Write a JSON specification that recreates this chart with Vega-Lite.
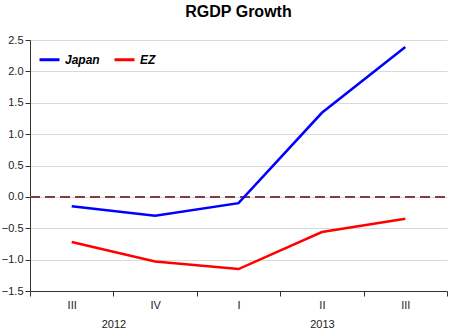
{
  "$schema": "https://vega.github.io/schema/vega-lite/v6.json",
  "autosize": "none",
  "width": 417,
  "height": 251,
  "padding": {"left": 30, "top": 40, "right": 3, "bottom": 42},
  "background": "white",
  "title": {"text": "RGDP Growth", "font": "Liberation Sans", "fontSize": 16, "fontWeight": "bold", "color": "#000", "frame": "group", "anchor": "middle", "offset": 14},
  "config": {
    "view": {"stroke": null},
    "axis": {"labelFont": "Liberation Sans", "labelFontSize": 11, "labelColor": "#222", "domainColor": "#333", "tickColor": "#333", "labelOverlap": false, "labelFlush": false}
  },
  "data": {"values": [
    {"i": 0, "series": "Japan", "value": -0.15},
    {"i": 1, "series": "Japan", "value": -0.3},
    {"i": 2, "series": "Japan", "value": -0.1},
    {"i": 3, "series": "Japan", "value": 1.34},
    {"i": 4, "series": "Japan", "value": 2.39},
    {"i": 0, "series": "EZ", "value": -0.72},
    {"i": 1, "series": "EZ", "value": -1.03},
    {"i": 2, "series": "EZ", "value": -1.15},
    {"i": 3, "series": "EZ", "value": -0.56},
    {"i": 4, "series": "EZ", "value": -0.35}
  ]},
  "resolve": {"axis": {"x": "independent"}},
  "layer": [
    {
      "mark": {"type": "rule", "strokeDash": [10, 5], "strokeWidth": 2, "color": "#7f3f3f"},
      "encoding": {
        "x": {"datum": -0.5, "type": "quantitative", "scale": {"domain": [-0.5, 4.5], "nice": false, "zero": false},
              "axis": {"orient": "bottom", "values": [-0.5, 0.5, 1.5, 2.5, 3.5, 4.5], "tickCount": 20, "labels": false, "ticks": true, "tickSize": 5, "domain": true, "grid": false, "title": null}},
        "x2": {"datum": 4.5},
        "y": {"datum": 0, "type": "quantitative",
              "scale": {"domain": [-1.5, 2.5], "nice": false, "zero": false},
              "axis": {"values": [-1.5, -1, -0.5, 0, 0.5, 1, 1.5, 2, 2.5], "tickCount": 20, "format": ".1f", "labelOverlap": false, "grid": true, "gridColor": "#d9d9d9", "gridWidth": 1, "tickSize": 5, "labelPadding": 2, "domain": true, "domainColor": "#333", "title": null}}
      }
    },
    {
      "transform": [{"filter": "datum.series == 'EZ'"}],
      "mark": {"type": "line", "strokeWidth": 2.5},
      "encoding": {
        "x": {"field": "i", "type": "quantitative",
              "axis": {"orient": "bottom", "values": [0.5, 3], "labelExpr": "datum.value < 1 ? '2012' : '2013'", "ticks": false, "domain": false, "grid": false, "labelPadding": 27, "title": null}},
        "y": {"field": "value", "type": "quantitative"},
        "color": {"field": "series", "type": "nominal"}
      }
    },
    {
      "transform": [{"filter": "datum.series == 'Japan'"}],
      "mark": {"type": "line", "strokeWidth": 2.5},
      "encoding": {
        "x": {"field": "i", "type": "quantitative",
              "axis": {"orient": "bottom", "values": [0, 1, 2, 3, 4], "tickCount": 20, "labelExpr": "['III','IV','I','II','III'][datum.value]", "ticks": false, "domain": false, "grid": false, "labelPadding": 8, "title": null}},
        "y": {"field": "value", "type": "quantitative"},
        "color": {"field": "series", "type": "nominal",
                  "scale": {"domain": ["Japan", "EZ"], "range": ["#0000ff", "#ff0000"]},
                  "legend": {"orient": "top-left", "direction": "horizontal", "title": null, "symbolType": "stroke", "symbolStrokeWidth": 3, "symbolSize": 400, "labelFont": "Liberation Sans", "labelFontSize": 12, "labelFontWeight": "bold", "labelFontStyle": "italic", "labelColor": "#000", "offset": 8, "columnPadding": 8}}
      }
    }
  ]
}
